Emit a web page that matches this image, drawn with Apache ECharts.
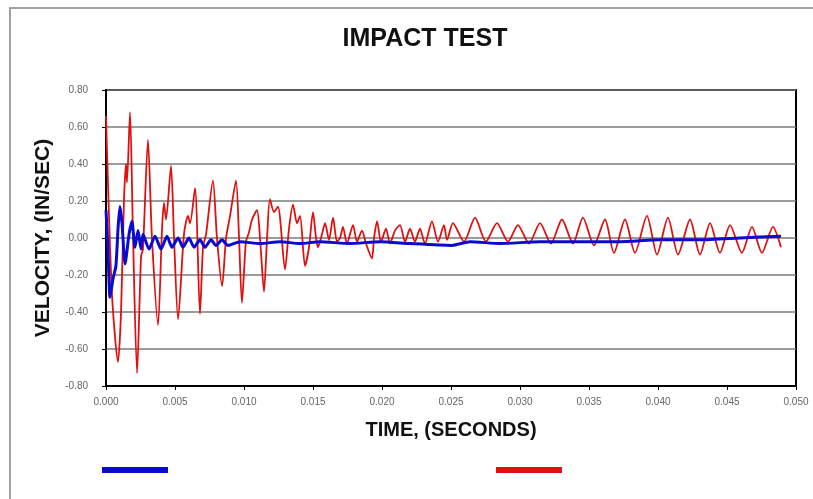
<!DOCTYPE html>
<html>
<head>
<meta charset="utf-8">
<title>Impact Test</title>
<script src="https://cdn.jsdelivr.net/npm/echarts@6/dist/echarts.min.js"></script>
<style>
  html, body { margin: 0; padding: 0; background: #fff; }
  #chart { width: 813px; height: 499px; }
</style>
</head>
<body>
<div id="chart"></div>
<script>
// time values, in milliseconds
var redTimeMs = [0, 0.43, 0.87, 1.09, 1.30, 1.45, 1.52, 1.74, 1.96, 2.25, 2.54, 2.68, 3.04, 3.33, 3.77,
  4.06, 4.20, 4.35, 4.71, 4.93, 5.22, 5.65, 5.94, 6.09, 6.45, 6.81, 7.03, 7.25, 7.75, 8.04, 8.41,
  8.70, 8.99, 9.42, 9.64, 9.85, 10.14, 10.36, 10.58, 10.94, 11.16, 11.45, 11.67, 11.88, 12.17, 12.46,
  12.97, 13.26, 13.55, 13.84, 14.06, 14.42, 14.71, 15.00, 15.22, 15.36, 15.65, 15.87, 16.16, 16.45,
  16.74, 16.96, 17.17, 17.46, 17.90, 18.19, 18.55, 18.84, 19.27, 19.42, 19.64, 19.93, 20.29, 20.58,
  20.94, 21.30, 21.67, 22.03, 22.39, 22.75, 23.11, 23.62, 24.06, 24.49, 24.71, 25.14, 25.94, 26.74,
  27.53, 28.33, 29.13, 29.85, 30.65, 31.45, 32.24, 33.04, 33.84, 34.56, 35.36, 36.16, 36.81, 37.61,
  38.33, 39.20, 39.93, 40.72, 41.45, 42.32, 43.04, 43.77, 44.49, 45.22, 46.08, 46.81, 47.53, 48.33, 48.91];
var redVel = [0.66, -0.30, -0.67, -0.40, 0.20, 0.40, 0.30, 0.68, 0.00, -0.73, -0.10, -0.06, 0.53, 0.00, -0.47,
  0.05, 0.19, 0.10, 0.39, 0.00, -0.44, 0.02, 0.12, 0.08, 0.27, -0.41, -0.05, 0.02, 0.31, 0.00, -0.26,
  0.00, 0.12, 0.31, 0.00, -0.35, -0.02, 0.03, 0.10, 0.15, 0.00, -0.29, 0.00, 0.21, 0.14, 0.17,
  -0.17, 0.05, 0.18, 0.08, 0.12, -0.15, -0.05, 0.14, 0.00, -0.05, 0.02, 0.08, -0.01, 0.11,
  -0.02, 0.00, 0.06, -0.03, 0.07, -0.02, 0.04, -0.03, -0.11, 0.00, 0.09, -0.02, 0.05, -0.03,
  0.04, 0.07, -0.02, 0.05, -0.02, 0.05, -0.03, 0.09, -0.02, 0.07, -0.01, 0.08, -0.02, 0.11,
  -0.02, 0.08, -0.02, 0.07, -0.03, 0.08, -0.03, 0.10, -0.03, 0.11, -0.04, 0.10, -0.08, 0.10,
  -0.08, 0.12, -0.09, 0.11, -0.09, 0.10, -0.09, 0.08, -0.08, 0.07, -0.08, 0.06, -0.08, 0.06, -0.05];

var blueTimeMs = [0, 0.14, 0.29, 0.51, 0.72, 0.87, 1.01, 1.16, 1.38, 1.67, 1.88, 2.10, 2.32, 2.54, 2.68,
  3.12, 3.55, 3.99, 4.42, 4.78, 5.22, 5.58, 6.01, 6.38, 6.81, 7.17, 7.61, 7.97, 8.41, 8.84, 9.71,
  11.16, 12.61, 14.06, 15.51, 17.68, 19.85, 22.03, 25.07, 26.38, 28.55, 31.45, 34.35, 37.25, 40.14,
  43.04, 45.94, 48.91];
var blueVel = [0.15, -0.05, -0.32, -0.22, -0.15, 0.05, 0.17, 0.08, -0.14, 0.02, 0.09, -0.05, 0.04, -0.06, 0.02,
  -0.06, 0.01, -0.06, 0.01, -0.05, 0.00, -0.05, 0.00, -0.05, -0.01, -0.05, -0.01, -0.04, -0.01, -0.04, -0.02,
  -0.03, -0.02, -0.03, -0.02, -0.03, -0.02, -0.03, -0.04, -0.02, -0.03, -0.02, -0.02, -0.02, -0.01,
  -0.01, 0.00, 0.01];

var seriesNames = ['Series 1', 'Series 2'];

function pairs(tms, v) {
  var out = [];
  for (var i = 0; i < tms.length; i++) {
    out.push([tms[i] / 1000, v[i]]);
  }
  return out;
}

var font = '"Liberation Sans", Arial, sans-serif';
var myChart = echarts.init(document.getElementById('chart'));

var option = {
  backgroundColor: '#fff',
  animation: false,
  textStyle: { fontFamily: font },
  title: {
    text: 'IMPACT TEST',
    left: 420,
    textAlign: 'center',
    top: 22,
    textStyle: { fontSize: 25, fontWeight: 'bold', color: '#111', fontFamily: font }
  },
  graphic: [{
    type: 'rect',
    shape: { x: 10, y: 8, width: 900, height: 600 },
    style: { fill: 'none', stroke: '#a0a0a0', lineWidth: 2 },
    silent: true
  }],
  legend: [{
    data: [seriesNames[0]],
    left: 97,
    top: 462,
    icon: 'rect',
    itemWidth: 66,
    itemHeight: 6,
    formatter: function () { return ''; }
  }, {
    data: [seriesNames[1]],
    left: 491,
    top: 462,
    icon: 'rect',
    itemWidth: 66,
    itemHeight: 6,
    formatter: function () { return ''; }
  }],
  grid: {
    left: 106, right: 17, top: 90, bottom: 113,
    show: true,
    borderColor: '#000',
    borderWidth: 2,
    backgroundColor: '#fff'
  },
  xAxis: {
    type: 'value',
    min: 0,
    max: 0.05,
    interval: 0.005,
    name: 'TIME, (SECONDS)',
    nameLocation: 'middle',
    nameGap: 34,
    nameTextStyle: { fontSize: 20, fontWeight: 'bold', color: '#111', fontFamily: font },
    axisLine: { show: true, onZero: false, lineStyle: { color: '#000', width: 2 } },
    axisTick: { show: true, length: 4, lineStyle: { color: '#000' } },
    axisLabel: {
      margin: 11,
      fontSize: 10,
      color: '#666',
      formatter: function (v) { return v.toFixed(3); }
    },
    splitLine: { show: false }
  },
  yAxis: {
    type: 'value',
    min: -0.8,
    max: 0.8,
    interval: 0.2,
    name: 'VELOCITY, (IN/SEC)',
    nameLocation: 'middle',
    nameGap: 52,
    nameTextStyle: { fontSize: 21, fontWeight: 'bold', color: '#111', fontFamily: font },
    axisLine: { show: true, onZero: false, lineStyle: { color: '#000', width: 2 } },
    axisTick: { show: true, length: 4, lineStyle: { color: '#000' } },
    axisLabel: {
      margin: 18,
      fontSize: 10,
      color: '#666',
      formatter: function (v) { return v.toFixed(2); }
    },
    splitLine: { show: true, lineStyle: { color: '#7a7a7a', width: 1.5 } }
  },
  series: [{
    name: seriesNames[1],
    type: 'line',
    data: pairs(redTimeMs, redVel),
    showSymbol: false,
    smooth: 0.25,
    color: '#e01010',
    lineStyle: { color: '#e01010', width: 1.8 },
    z: 2
  }, {
    name: seriesNames[0],
    type: 'line',
    data: pairs(blueTimeMs, blueVel),
    showSymbol: false,
    smooth: 0.2,
    color: '#0a0ad0',
    lineStyle: { color: '#0a0ad0', width: 3 },
    z: 3
  }]
};

myChart.setOption(option);
</script>
</body>
</html>
